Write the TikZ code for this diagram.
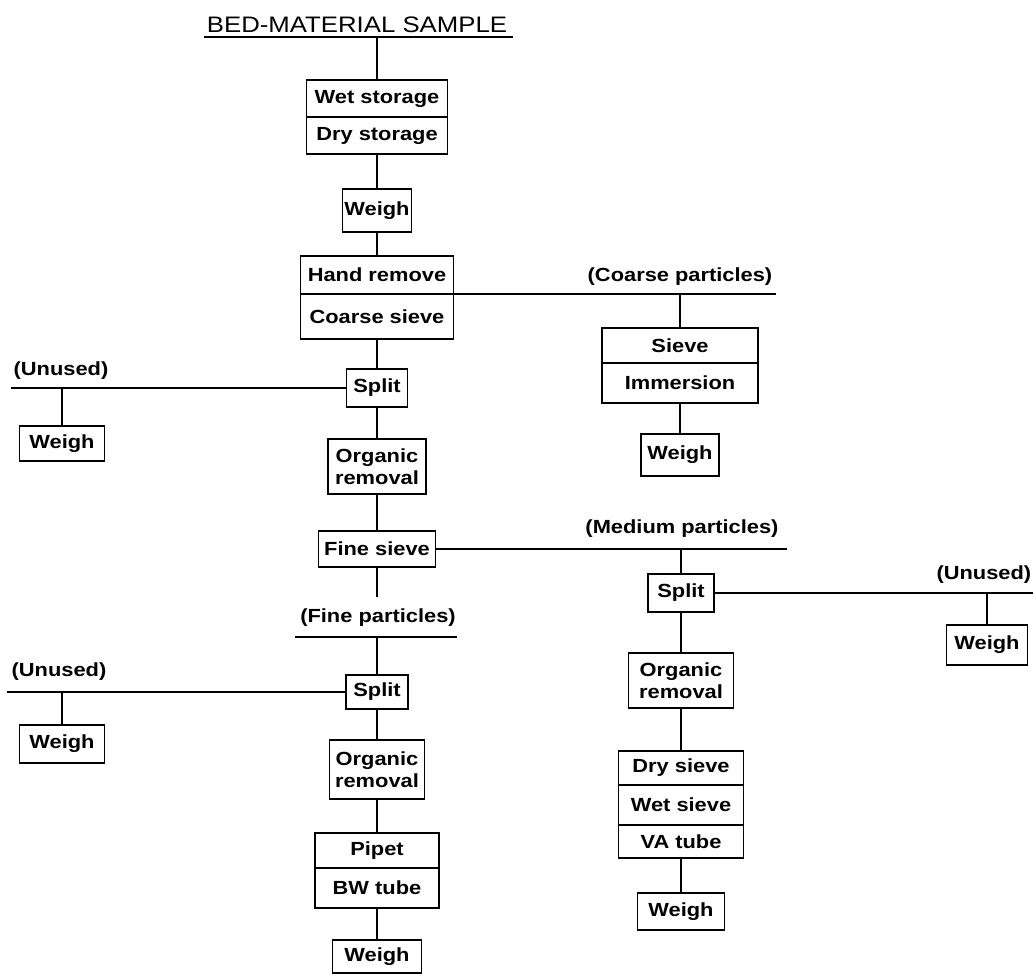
\documentclass[tikz,border=0pt]{standalone}
\usepackage{fontspec}
\setmainfont[FakeStretch=1.15]{Liberation Sans}
\usetikzlibrary{positioning}
\tikzset{
    cell/.style={draw=black, line width=0.7pt, outer sep=0pt, inner sep=1pt, align=center,
        font=\fontsize{9.5}{11}\selectfont\bfseries},
    tag/.style={inner sep=0pt, anchor=base, font=\fontsize{9.5}{11}\selectfont\bfseries},
}

\begin{document}
\begin{tikzpicture}[x=0.5pt, y=-0.5pt, line width=0.8pt]
		\useasboundingbox (0,0) rectangle (1033,975);
		% title
		\node[anchor=base, inner sep=0pt, font=\fontsize{11.2}{13}\selectfont] (title) at (357,32) {BED-MATERIAL SAMPLE};
		\coordinate (title left) at (204,37);
		\coordinate (title right) at (513,37);
		
		% main column
		\node[cell, anchor=north, minimum width=70.5pt, minimum height=18.5pt] (wet) at (377,80) {Wet storage};
		\node[cell, below=0pt of wet, minimum width=70.5pt, minimum height=18.5pt] (dry) {Dry storage};
		\node[cell, below=17.5pt of dry, minimum width=34.5pt, minimum height=21.5pt] (weigh) {Weigh};
		\node[cell, below=12pt of weigh, minimum width=76.5pt, minimum height=19pt] (hand) {Hand remove};
		\node[cell, below=0pt of hand, minimum width=76.5pt, minimum height=22.5pt] (coarse) {Coarse sieve};
		\node[cell, below=15pt of coarse, minimum width=30.5pt, minimum height=19pt] (split) {Split};
		\node[cell, below=16pt of split, minimum width=49pt, minimum height=27.5pt] (organic) {Organic\\removal};
		\node[cell, below=18.5pt of organic, minimum width=58.5pt, minimum height=18pt] (fine) {Fine sieve};
		
		% coarse particles
		\node[tag] (coarse tag) at (680,281) {(Coarse particles)};
		\coordinate (coarse end) at (776,294);
		\node[cell, anchor=north, minimum width=78pt, minimum height=17.5pt] (sieve) at (680,328) {Sieve};
		\node[cell, below=0pt of sieve, minimum width=78pt, minimum height=20pt] (immersion) {Immersion};
		\node[cell, below=15.5pt of immersion, minimum width=39pt, minimum height=21pt] (coarse weigh) {Weigh};
		
		% unused after first split
		\node[tag] (unused tag) at (61,375) {(Unused)};
		\coordinate (unused end) at (11,388);
		\node[cell, minimum width=42.5pt, minimum height=17.5pt] (unused weigh) at (62,443.5) {Weigh};
		
		% medium particles
		\node[tag] (mid tag) at (682,533) {(Medium particles)};
		\coordinate (mid end) at (787,549);
		\node[cell, minimum width=33pt, minimum height=19pt] (mid split) at (681,593) {Split};
		\node[cell, below=20.5pt of mid split, minimum width=52.5pt, minimum height=27.5pt] (mid organic) {Organic\\removal};
		\node[cell, below=21.5pt of mid organic, minimum width=62.5pt, minimum height=17pt] (dry sieve) {Dry sieve};
		\node[cell, below=0pt of dry sieve, minimum width=62.5pt, minimum height=20pt] (wet sieve) {Wet sieve};
		\node[cell, below=0pt of wet sieve, minimum width=62.5pt, minimum height=16.5pt] (va tube) {VA tube};
		\node[cell, below=17.5pt of va tube, minimum width=43.5pt, minimum height=18.5pt] (mid weigh) {Weigh};
		
		\node[tag, anchor=base east] (right tag) at (1032,579) {(Unused)};
		\coordinate (right end) at (1033,593);
		\node[cell, minimum width=40.5pt, minimum height=20pt] (right weigh) at (987,645) {Weigh};
		
		% fine particles
		\node[tag, inner ysep=5pt] (fine tag) at (378,622) {(Fine particles)};
		\coordinate (fine left) at (295,637);
		\coordinate (fine right) at (457,637);
		\node[cell, below=54pt of fine, minimum width=31pt, minimum height=17pt] (fine split) {Split};
		\node[cell, below=15.5pt of fine split, minimum width=47.5pt, minimum height=29.5pt] (fine organic) {Organic\\removal};
		\node[cell, below=17pt of fine organic, minimum width=62pt, minimum height=17.5pt] (pipet) {Pipet};
		\node[cell, below=0pt of pipet, minimum width=62pt, minimum height=20pt] (bw tube) {BW tube};
		\node[cell, below=16pt of bw tube, minimum width=44.5pt, minimum height=16.5pt] (fine weigh) {Weigh};
		
		\node[tag] (left tag) at (59,676) {(Unused)};
		\coordinate (left end) at (7,692);
		\node[cell, minimum width=42.5pt, minimum height=19pt] (left weigh) at (62,744) {Weigh};
		
		% connectors
		\path [-] (title left) edge (title right);
		\path [-] (wet.north |- title left) edge (wet);
		\path [-] (dry) edge (weigh);
		\path [-] (weigh) edge (hand);
		\path [-] (coarse) edge (split);
		\path [-] (split) edge (organic);
		\path [-] (organic) edge (fine);
		
		\path [-] (hand.south east) edge (coarse end);
		\path [-] (sieve.north |- coarse end) edge (sieve);
		\path [-] (immersion) edge (coarse weigh);
		
		\path [-] (split.west) edge (unused end);
		\path [-] (unused weigh.north |- unused end) edge (unused weigh);
		
		\path [-] (fine.east) edge (mid end);
		\path [-] (mid split.north |- mid end) edge (mid split);
		\path [-] (mid split) edge (mid organic);
		\path [-] (mid organic) edge (dry sieve);
		\path [-] (va tube) edge (mid weigh);
		\path [-] (mid split.east) edge (right end);
		\path [-] (right weigh.north |- right end) edge (right weigh);
		
		\path [-] (fine.south) edge (fine.south |- fine tag.north);
		\path [-] (fine left) edge (fine right);
		\path [-] (fine split.north |- fine left) edge (fine split);
		\path [-] (fine split) edge (fine organic);
		\path [-] (fine organic) edge (pipet);
		\path [-] (bw tube) edge (fine weigh);
		\path [-] (fine split.west) edge (left end);
		\path [-] (left weigh.north |- left end) edge (left weigh);
		\end{tikzpicture}
\end{document}
